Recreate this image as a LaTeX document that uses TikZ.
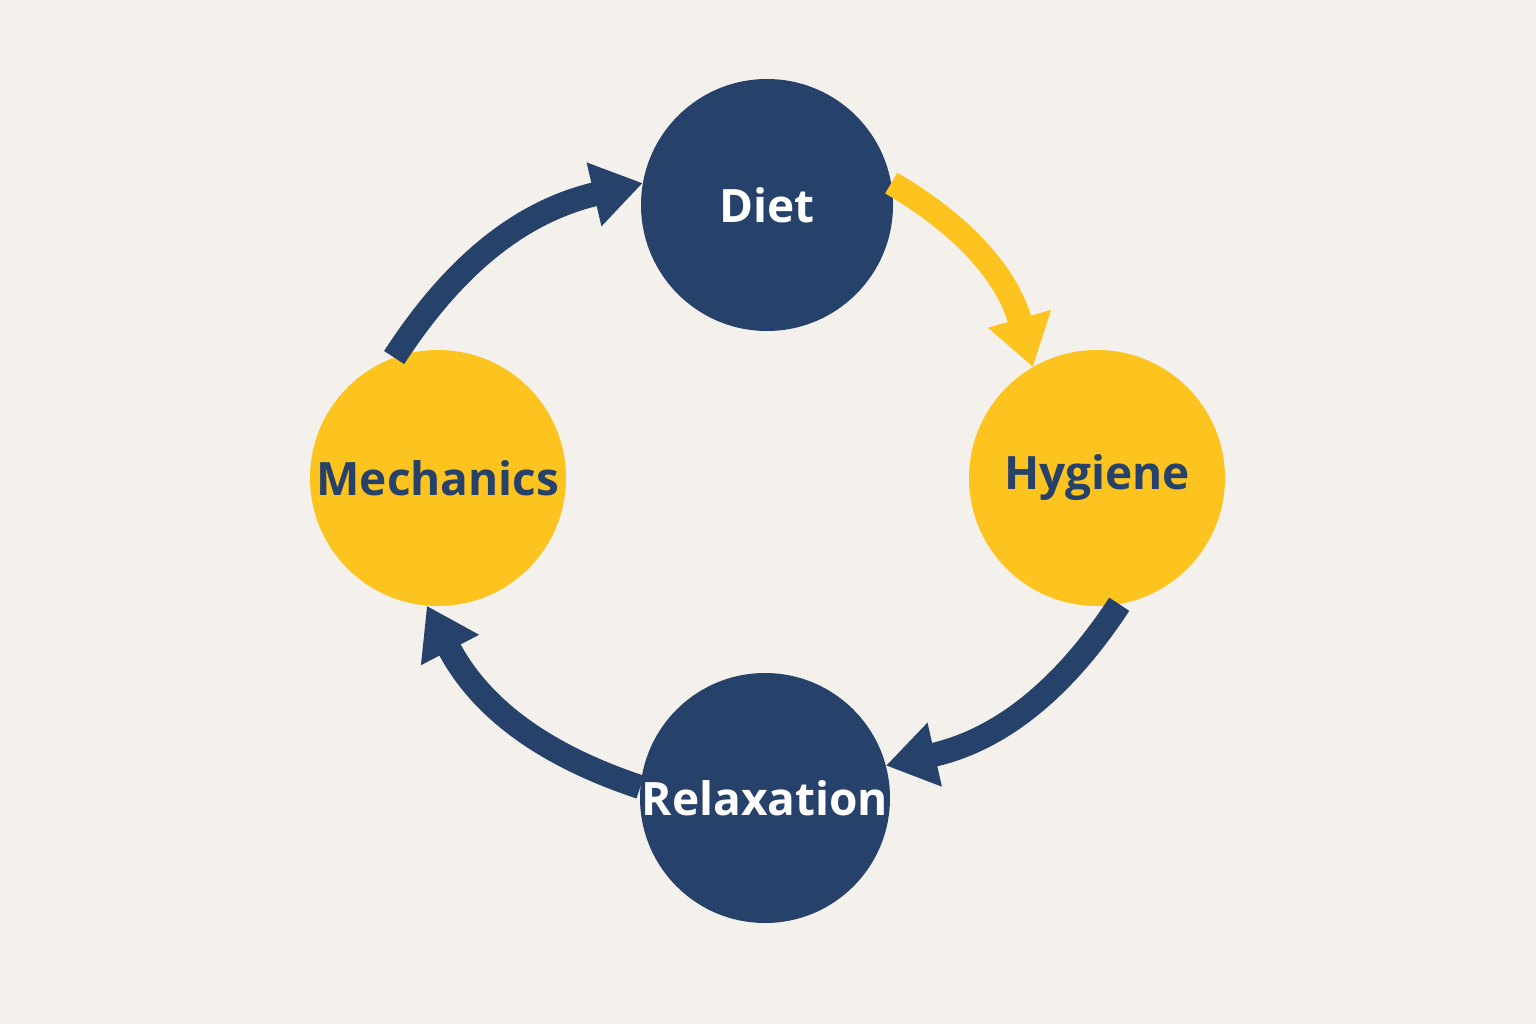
\documentclass[tikz,border=0pt]{standalone}
\usepackage{fontspec}
\setmainfont{Open Sans}
\usetikzlibrary{arrows.meta}
\definecolor{navy}{HTML}{26416A}
\definecolor{gold}{HTML}{FDC31E}
\definecolor{bg}{HTML}{F4F0EC}
\begin{document}
\begin{tikzpicture}[x=1pt,y=-1pt,
  blob/.style={circle,minimum size=252pt,inner sep=0pt,font=\fontsize{46}{50}\selectfont\bfseries},
  cyc/.style={line width=24pt,-{Triangle[width=62pt,length=50pt]}}]
\fill[bg] (0,0) rectangle (1536,1024);
\useasboundingbox (0,0) rectangle (1536,1024);
\node[blob,fill=navy,text=white] (diet) at (767,205) {Diet};
\node[blob,fill=gold,text=navy,minimum size=256pt] (hyg) at (1097,478) {Hygiene};
\node[blob,fill=navy,text=white,minimum size=250pt] (rel) at (765,798) {Relaxation};
\node[blob,fill=gold,text=navy,minimum size=256pt] (mech) at (438,478) {Mechanics};
\draw[cyc,gold] (diet.10) to[bend left=22] (hyg.120);
\draw[cyc,navy] (hyg.-80) to[bend left=22] (rel.15);
\draw[cyc,navy] (rel.175) to[bend left=22] (mech.-95);
\draw[cyc,navy] (mech.110) to[bend left=22] (diet.170);
\end{tikzpicture}
\end{document}
